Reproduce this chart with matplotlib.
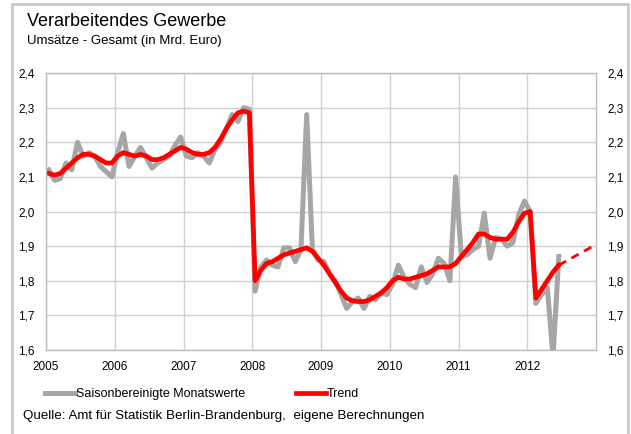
import numpy as np
import matplotlib
matplotlib.use("Agg")
import matplotlib.pyplot as plt
from matplotlib.patches import Rectangle

plt.rcParams['font.family'] = ['Liberation Sans', 'DejaVu Sans']

# Monthly values, Jan 2005 .. Jun 2012 (in Mrd. Euro)
saison = [
    2.12, 2.09, 2.095, 2.14, 2.12, 2.20, 2.16, 2.17, 2.16, 2.13, 2.115, 2.10,   # 2005
    2.17, 2.225, 2.13, 2.16, 2.185, 2.155, 2.125, 2.14, 2.15, 2.16, 2.19, 2.215,  # 2006
    2.16, 2.155, 2.17, 2.16, 2.14, 2.18, 2.20, 2.24, 2.28, 2.26, 2.30, 2.295,    # 2007
    1.77, 1.84, 1.86, 1.845, 1.84, 1.895, 1.895, 1.855, 1.89, 2.28, 1.89, 1.86,  # 2008
    1.855, 1.82, 1.80, 1.76, 1.72, 1.74, 1.75, 1.72, 1.755, 1.745, 1.765, 1.76,  # 2009
    1.79, 1.845, 1.81, 1.79, 1.78, 1.84, 1.795, 1.82, 1.865, 1.85, 1.80, 2.10,   # 2010
    1.87, 1.875, 1.89, 1.90, 1.995, 1.865, 1.925, 1.92, 1.90, 1.91, 1.99, 2.03,  # 2011
    2.00, 1.735, 1.76, 1.78, 1.58, 1.87,                                          # 2012
]
trend = [
    2.11, 2.105, 2.11, 2.125, 2.14, 2.155, 2.165, 2.165, 2.16, 2.15, 2.14, 2.14,
    2.16, 2.17, 2.165, 2.16, 2.165, 2.16, 2.15, 2.15, 2.155, 2.165, 2.175, 2.185,
    2.18, 2.17, 2.165, 2.165, 2.17, 2.185, 2.21, 2.24, 2.265, 2.285, 2.29, 2.285,
    1.80, 1.83, 1.85, 1.855, 1.865, 1.875, 1.88, 1.885, 1.89, 1.895, 1.885, 1.865,
    1.845, 1.82, 1.795, 1.77, 1.75, 1.742, 1.74, 1.74, 1.745, 1.755, 1.765, 1.78,
    1.80, 1.81, 1.805, 1.805, 1.81, 1.815, 1.82, 1.83, 1.84, 1.84, 1.84, 1.85,
    1.87, 1.89, 1.91, 1.935, 1.935, 1.925, 1.92, 1.92, 1.92, 1.94, 1.97, 1.995,
    2.00, 1.75, 1.775, 1.80, 1.825, 1.845,
]
# forecast extension Jun 2012 -> Dec 2012
forecast_months = [89, 95]
forecast = [1.845, 1.90]

years = list(range(2005, 2013))
yticks = [1.6, 1.7, 1.8, 1.9, 2.0, 2.1, 2.2, 2.3, 2.4]

x = 2005 + (np.arange(len(saison)) + 0.5) / 12
xf = 2005 + (np.array(forecast_months) + 0.5) / 12

fig = plt.figure(figsize=(6.31, 4.34), dpi=100)
fig.patches.append(Rectangle((12 / 631, -0.01), 616 / 631, 1 - 4 / 434 + 0.01,
                             transform=fig.transFigure, fill=False,
                             edgecolor='#c8c8c8', lw=2))

ax = fig.add_axes([46 / 631, 1 - 350 / 434, 550 / 631, 277 / 434])
ax.plot(x, saison, color='#a6a6a6', lw=3.6, solid_joinstyle='round',
        label='Saisonbereinigte Monatswerte')
ax.plot(x, trend, color='#ff0000', lw=3.4, solid_joinstyle='round', label='Trend')
ax.plot(xf, forecast, color='#ff0000', lw=2, ls=(0, (3, 2.2)))

ax.set_xlim(2005, 2013)
ax.set_ylim(1.6, 2.4)
ax.set_xticks(years)
ax.set_xticklabels([str(y) for y in years], fontsize=8.5)
ax.set_yticks(yticks)
ax.set_yticklabels([f"{v:.1f}".replace('.', ',') for v in yticks], fontsize=8.5)
ax.tick_params(length=0, pad=8)
ax.tick_params(axis='y', labelright=True, pad=8)
ax.grid(True, color='#d0d0d0', lw=1)
ax.set_axisbelow(True)
for s in ax.spines.values():
    s.set_color('#bdbdbd')
    s.set_linewidth(1)

fig.text(27 / 631, 1 - 22 / 434, 'Verarbeitendes Gewerbe', fontsize=13,
         va='center', ha='left')
fig.text(27 / 631, 1 - 41 / 434, 'Umsätze - Gesamt (in Mrd. Euro)', fontsize=9.5,
         va='center', ha='left')

fig.legend(loc='center left', bbox_to_anchor=(34 / 631, 1 - 394 / 434), ncol=2,
           frameon=False, fontsize=9, handlelength=2.4, handletextpad=0.1,
           columnspacing=4.0)
fig.text(23 / 631, 1 - 416 / 434,
         'Quelle: Amt für Statistik Berlin-Brandenburg,  eigene Berechnungen',
         fontsize=9.6, va='center', ha='left')

fig.savefig('out.png', dpi=100)
